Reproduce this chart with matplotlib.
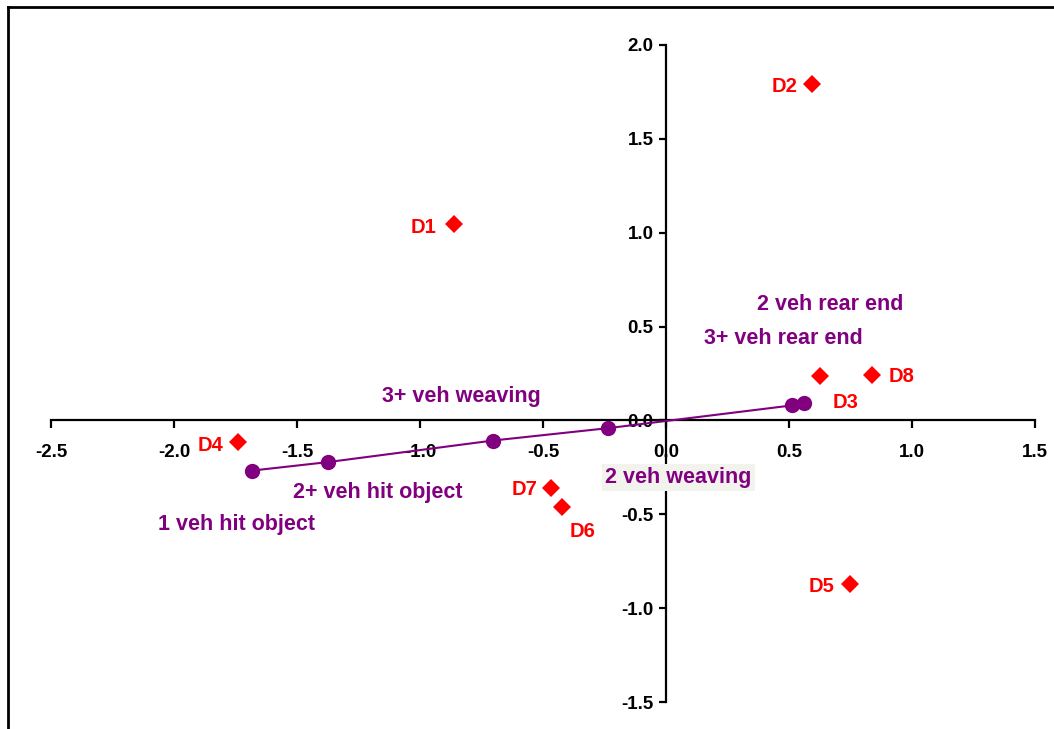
import matplotlib
matplotlib.use("Agg")
import matplotlib.pyplot as plt
from matplotlib.lines import Line2D

plt.rcParams['font.family'] = ['Liberation Sans', 'DejaVu Sans']
plt.rcParams['font.weight'] = 'bold'

# crash type points (purple circles, joined by a line)
crash_x = [-1.682, -1.375, -0.703, -0.235, 0.512, 0.560]
crash_y = [-0.267, -0.222, -0.107, -0.041, 0.080, 0.092]

crash_labels = ["1 veh hit object", "2+ veh hit object", "3+ veh weaving",
                "2 veh weaving", "3+ veh rear end", "2 veh rear end"]
crash_lab_x = [-1.748, -1.171, -0.833, 0.050, 0.476, 0.667]
crash_lab_y = [-0.554, -0.384, 0.128, -0.305, 0.437, 0.618]

# driver points (red diamonds)
drv_names = ["D1", "D2", "D3", "D4", "D5", "D6", "D7", "D8"]
drv_x = [-0.862, 0.593, 0.626, -1.741, 0.748, -0.422, -0.466, 0.836]
drv_y = [1.045, 1.791, 0.235, -0.117, -0.869, -0.462, -0.361, 0.244]
drv_lab_x = [-0.984, 0.480, 0.728, -1.850, 0.634, -0.341, -0.577, 0.959]
drv_lab_y = [1.029, 1.780, 0.096, -0.133, -0.885, -0.592, -0.368, 0.235]

xticks = [-2.5, -2.0, -1.5, -1.0, -0.5, 0.0, 0.5, 1.0, 1.5]
yticks = [-1.5, -1.0, -0.5, 0.0, 0.5, 1.0, 1.5, 2.0]

purple = '#800080'
red = '#FF0000'

fig = plt.figure(figsize=(10.54, 7.29), dpi=100)
ax = fig.add_axes([0.0484, 0.0370, 0.9336, 0.9013])
ax.set_xlim(-2.5, 1.5)
ax.set_ylim(-1.5, 2.0)

ax.spines['left'].set_position(('data', 0))
ax.spines['bottom'].set_position(('data', 0))
ax.spines['top'].set_visible(False)
ax.spines['right'].set_visible(False)
for s in ['left', 'bottom']:
    ax.spines[s].set_linewidth(1.6)

ax.set_xticks(xticks)
ax.set_yticks(yticks)
ax.set_xticklabels([f"{v:.1f}" for v in xticks])
ax.set_yticklabels([f"{v:.1f}" for v in yticks])
ax.tick_params(axis='x', direction='out', length=6, width=1.6, pad=11, labelsize=13.5)
ax.tick_params(axis='y', direction='out', length=5, width=1.6, pad=4, labelsize=13.5)

ax.plot(crash_x, crash_y, color=purple, lw=1.5, marker='o', ms=11, mew=0, zorder=3)
ax.plot(drv_x, drv_y, ls='none', marker='D', ms=9.3, mew=0, color=red, zorder=3)

for name, x, y in zip(drv_names, drv_lab_x, drv_lab_y):
    ax.text(x, y, name, color=red, fontsize=14.5, fontweight='bold', ha='center', va='center')

for lab, x, y in zip(crash_labels, crash_lab_x, crash_lab_y):
    kw = {}
    if lab == "2 veh weaving":
        kw['bbox'] = dict(boxstyle='square,pad=0.15', fc='#F3F3EE', ec='none')
    ax.text(x, y, lab, color=purple, fontsize=15.5, fontweight='bold',
            ha='center', va='center', **kw)

# outer frame (left and top edges visible)
fig.add_artist(Line2D([8 / 1054, 8 / 1054], [0, 1 - 7 / 729], transform=fig.transFigure,
                      color='black', lw=2))
fig.add_artist(Line2D([8 / 1054, 1], [1 - 7 / 729, 1 - 7 / 729], transform=fig.transFigure,
                      color='black', lw=2))

fig.savefig("out.png", dpi=100)
